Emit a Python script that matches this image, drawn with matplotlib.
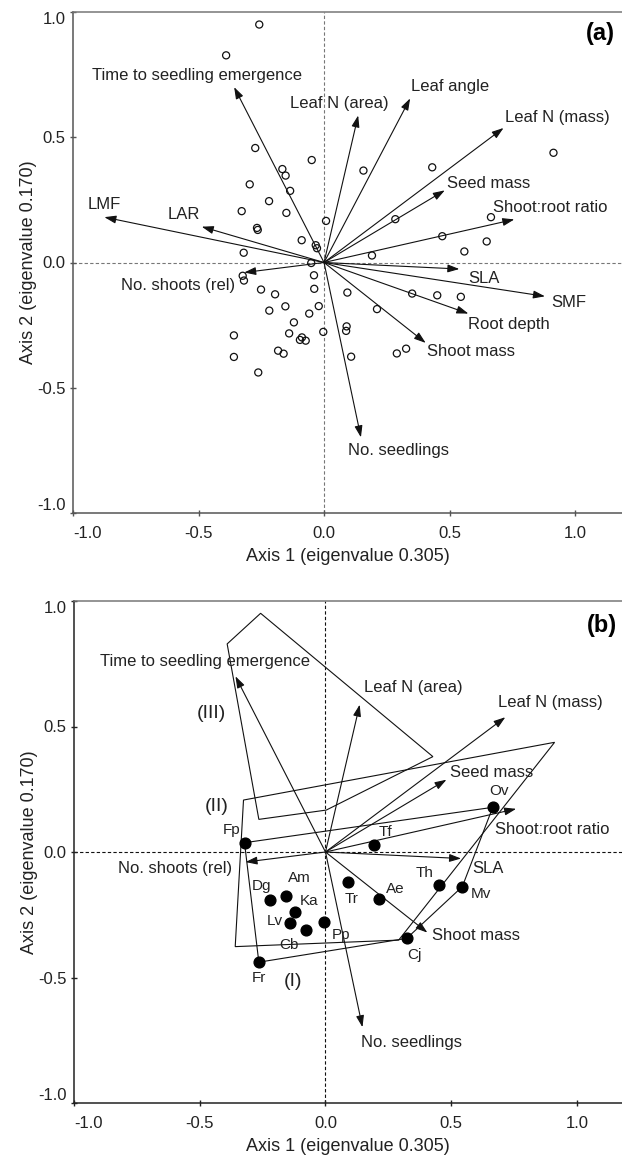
import matplotlib
matplotlib.use('Agg')
import matplotlib.pyplot as plt
from matplotlib.patches import Polygon

plt.rcParams['font.family'] = ['Liberation Sans', 'DejaVu Sans']

# trait vectors (biplot scores)
traits = ['Time to seedling emergence', 'Leaf N (area)', 'Leaf angle', 'Leaf N (mass)',
          'Seed mass', 'Shoot:root ratio', 'SLA', 'SMF', 'Root depth', 'Shoot mass',
          'No. seedlings', 'No. shoots (rel)', 'LMF', 'LAR']
trait_x = [-0.358, 0.136, 0.343, 0.715, 0.481, 0.758, 0.539, 0.880, 0.575, 0.405,
           0.147, -0.318, -0.875, -0.487]
trait_y = [0.700, 0.587, 0.655, 0.537, 0.288, 0.172, -0.026, -0.135, -0.204, -0.321,
           -0.698, -0.040, 0.181, 0.143]
traits_b = ['Time to seedling emergence', 'Leaf N (area)', 'Leaf N (mass)', 'Seed mass',
            'Shoot:root ratio', 'SLA', 'Shoot mass', 'No. seedlings', 'No. shoots (rel)']

# sample scores, panel (a)
sample_x = [-0.258, -0.390, -0.274, -0.049, -0.166, -0.153, -0.296, -0.135, -0.219, -0.328,
            -0.150, 0.008, -0.267, -0.264, -0.089, -0.033, -0.028, -0.320, -0.051, -0.040,
            -0.324, -0.319, 0.157, 0.431, 0.914, 0.284, 0.665, 0.471, 0.648, 0.559,
            0.191, -0.251, -0.195, -0.039, -0.154, -0.218, -0.021, -0.059, -0.120, -0.139,
            -0.003, -0.359, -0.088, -0.096, -0.073, -0.183, -0.161, -0.359, -0.262, 0.093,
            0.351, 0.451, 0.545, 0.211, 0.090, 0.088, 0.108, 0.290, 0.327]
sample_y = [0.950, 0.827, 0.457, 0.409, 0.373, 0.347, 0.312, 0.286, 0.245, 0.205,
            0.198, 0.166, 0.138, 0.130, 0.089, 0.069, 0.057, 0.039, -0.002, -0.051,
            -0.053, -0.072, 0.367, 0.380, 0.438, 0.173, 0.181, 0.105, 0.084, 0.044,
            0.028, -0.108, -0.127, -0.105, -0.175, -0.192, -0.174, -0.204, -0.239, -0.283,
            -0.277, -0.291, -0.299, -0.309, -0.312, -0.352, -0.364, -0.377, -0.439, -0.120,
            -0.124, -0.131, -0.137, -0.186, -0.255, -0.273, -0.376, -0.363, -0.344]

# species scores, panel (b)
species = ['Fp', 'Tf', 'Ov', 'Th', 'Mv', 'Ae', 'Tr', 'Cj', 'Pp', 'Dg', 'Am', 'Ka', 'Lv', 'Cb', 'Fr']
species_x = [-0.322, 0.191, 0.665, 0.453, 0.544, 0.211, 0.091, 0.323, -0.004, -0.220,
             -0.158, -0.122, -0.140, -0.077, -0.265]
species_y = [0.037, 0.028, 0.178, -0.131, -0.138, -0.187, -0.121, -0.344, -0.278, -0.191,
             -0.175, -0.238, -0.283, -0.311, -0.439]

# group outlines
hull_I = ['Fp', 'Ov', 'Mv', 'Cj', 'Fr']
hull_II_x = [-0.326, 0.911, 0.291, -0.359]
hull_II_y = [0.207, 0.437, -0.351, -0.377]
hull_III_x = [-0.258, 0.427, 0.003, -0.265, -0.391]
hull_III_y = [0.951, 0.380, 0.167, 0.130, 0.829]

# label offsets in pixels from arrow tip: (dx, dy, ha)
lab_a = {
    'Time to seedling emergence': (-37, 12, 'center'),
    'Leaf N (area)': (-68, 12, 'left'),
    'Leaf angle': (1, 12, 'left'),
    'Leaf N (mass)': (1, 10, 'left'),
    'Seed mass': (2, 7, 'left'),
    'Shoot:root ratio': (-21, 12, 'left'),
    'SLA': (9, -9, 'left'),
    'SMF': (6, -6, 'left'),
    'Root depth': (0, -11, 'left'),
    'Shoot mass': (1, -9, 'left'),
    'No. seedlings': (-13, -13, 'left'),
    'No. shoots (rel)': (-9, -13, 'right'),
    'LMF': (-17, 13, 'left'),
    'LAR': (-34, 12, 'left'),
}
lab_b = {
    'Time to seedling emergence': (-30, 15, 'center'),
    'Leaf N (area)': (4, 17, 'left'),
    'Leaf N (mass)': (-7, 15, 'left'),
    'Seed mass': (4, 7, 'left'),
    'Shoot:root ratio': (-21, -21, 'left'),
    'SLA': (11, -10, 'left'),
    'Shoot mass': (5, -3, 'left'),
    'No. seedlings': (-1, -15, 'left'),
    'No. shoots (rel)': (-13, -6, 'right'),
}
sp_off = {'Fp': (-13, 13), 'Tf': (12, 13), 'Ov': (6, 16), 'Th': (-15, 12), 'Mv': (19, -7),
          'Ae': (17, 10), 'Tr': (3, -17), 'Cj': (8, -17), 'Pp': (17, -13), 'Dg': (-9, 14),
          'Am': (14, 18), 'Ka': (14, 11), 'Lv': (-15, 2), 'Cb': (-17, -15), 'Fr': (0, -16)}

fig = plt.figure(figsize=(6.22, 11.57), dpi=100)
ax_a = fig.add_axes([73 / 622, 644 / 1157, 549 / 622, 501 / 1157])
ax_b = fig.add_axes([74 / 622, 54 / 1157, 548 / 622, 502 / 1157])


def setup(ax, xmax, spine_col, ref_col):
    ax.set_xlim(-1.0, xmax)
    ax.set_ylim(-1.0, 1.0)
    ax.axhline(0, color=ref_col, lw=0.8, ls=(0, (3, 2)), zorder=1)
    ax.axvline(0, color=ref_col, lw=0.8, ls=(0, (3, 2)), zorder=1)
    ax.spines['right'].set_visible(False)
    for s in ['left', 'bottom', 'top']:
        ax.spines[s].set_color(spine_col)
        ax.spines[s].set_linewidth(1.1)
    ax.spines['top'].set_color('#777777')
    ticks = [-1.0, -0.5, 0.0, 0.5, 1.0]
    ax.set_xticks(ticks, ['-1.0', '-0.5', '0.0', '0.5', '1.0'])
    ax.set_yticks(ticks, ['-1.0', '-0.5', '0.0', '0.5', '1.0'])
    ax.tick_params(direction='inout', length=5, width=1, colors=spine_col,
                   labelcolor='#222222', labelsize=12)
    ax.tick_params(axis='x', pad=7)
    ax.tick_params(axis='y', pad=3)
    ax.get_xticklabels()[0].set_ha('left')
    ax.get_yticklabels()[0].set_va('bottom')
    ax.get_yticklabels()[-1].set_va('top')
    ax.set_xlabel('Axis 1 (eigenvalue 0.305)', fontsize=13, color='#222222', labelpad=5)
    ax.set_ylabel('Axis 2 (eigenvalue 0.170)', fontsize=13, color='#222222', labelpad=0)


def arrows(ax, names, offsets):
    for name in names:
        i = traits.index(name)
        ax.annotate('', xy=(trait_x[i], trait_y[i]), xytext=(0, 0),
                    arrowprops=dict(arrowstyle='-|>,head_length=0.5,head_width=0.17',
                                    mutation_scale=14, lw=0.8, color='#111111',
                                    shrinkA=0, shrinkB=0), zorder=3)
        dx, dy, ha = offsets[name]
        ax.annotate(name, xy=(trait_x[i], trait_y[i]), xytext=(dx, dy),
                    textcoords='offset pixels', ha=ha, va='center', fontsize=12,
                    color='#222222', zorder=4)


# panel (a)
setup(ax_a, 1.187, '#555555', '#777777')
ax_a.scatter(sample_x, sample_y, s=26, facecolors='none', edgecolors='#111111',
             linewidths=0.9, zorder=2)
arrows(ax_a, traits, lab_a)
ax_a.text(0.96, 0.958, '(a)', transform=ax_a.transAxes, ha='center', va='center',
          fontsize=17, fontweight='bold')

# panel (b)
setup(ax_b, 1.179, '#222222', '#111111')
sx = dict(zip(species, species_x))
sy = dict(zip(species, species_y))
ax_b.add_patch(Polygon(list(zip([sx[s] for s in hull_I], [sy[s] for s in hull_I])),
                       closed=True, fill=False, lw=0.8, ec='#111111', zorder=2))
ax_b.add_patch(Polygon(list(zip(hull_II_x, hull_II_y)), closed=True, fill=False,
                       lw=0.8, ec='#111111', zorder=2))
ax_b.add_patch(Polygon(list(zip(hull_III_x, hull_III_y)), closed=True, fill=False,
                       lw=0.8, ec='#111111', zorder=2))
arrows(ax_b, traits_b, lab_b)
ax_b.scatter(species_x, species_y, s=60, color='black', zorder=5)
for s in species:
    dx, dy = sp_off[s]
    ax_b.annotate(s, xy=(sx[s], sy[s]), xytext=(dx, dy), textcoords='offset pixels',
                  ha='center', va='center', fontsize=11, color='#222222', zorder=6)
ax_b.text(-0.454, 0.550, '(III)', ha='center', va='center', fontsize=14, color='#222222')
ax_b.text(-0.432, 0.183, '(II)', ha='center', va='center', fontsize=14, color='#222222')
ax_b.text(-0.130, -0.517, '(I)', ha='center', va='center', fontsize=14, color='#222222')
ax_b.text(0.963, 0.952, '(b)', transform=ax_b.transAxes, ha='center', va='center',
          fontsize=17, fontweight='bold')

fig.savefig('out.png', dpi=100)
